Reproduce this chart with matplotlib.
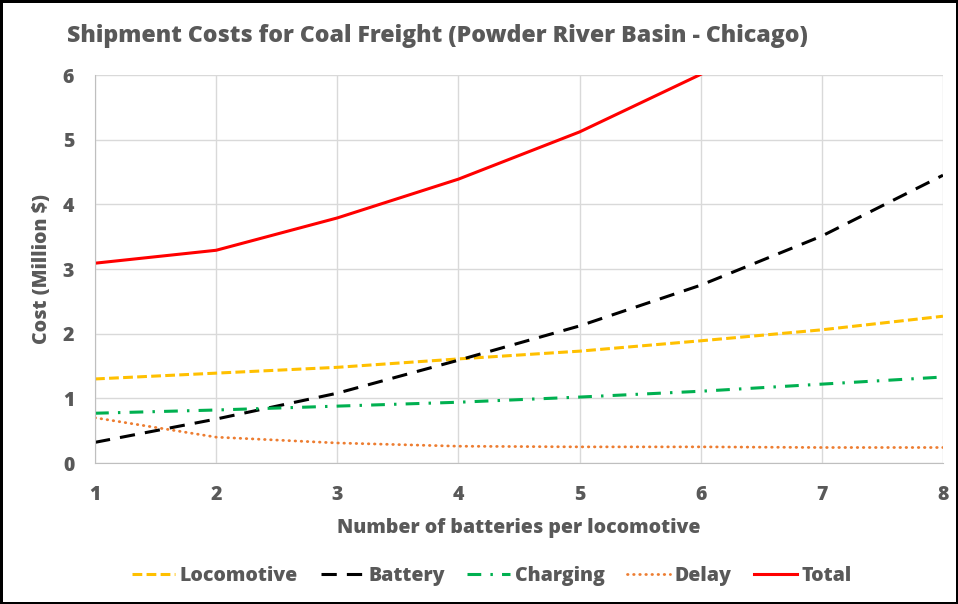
import matplotlib.pyplot as plt
import numpy as np

plt.rcParams['font.family'] = ['Open Sans', 'DejaVu Sans']
W = 'heavy'

# data
batteries = [1, 2, 3, 4, 5, 6, 7, 8]
locomotive = [1.30, 1.39, 1.48, 1.61, 1.73, 1.89, 2.06, 2.27]
battery = [0.32, 0.68, 1.08, 1.59, 2.12, 2.75, 3.51, 4.45]
charging = [0.77, 0.82, 0.88, 0.94, 1.02, 1.11, 1.22, 1.33]
delay = [0.70, 0.40, 0.31, 0.26, 0.25, 0.25, 0.24, 0.24]
total = [3.09, 3.29, 3.79, 4.39, 5.12, 6.01, 7.03, 8.29]

grey = '#595959'

fig = plt.figure(figsize=(9.58, 6.04), dpi=100, edgecolor='black', linewidth=2.5)
ax = fig.add_axes([0.0992, 0.2334, 0.8851, 0.6424])

ax.plot(batteries, locomotive, color='#FFC000', lw=2.2, dashes=(3.2, 1.4), label='Locomotive')
ax.plot(batteries, battery, color='black', lw=2.2, dashes=(5, 3.3), label='Battery')
ax.plot(batteries, charging, color='#00B050', lw=2.2, dashes=(4.5, 3, 0.8, 3), label='Charging')
ax.plot(batteries, delay, color='#ED7D31', lw=2.0, dashes=(0.2, 2.0), dash_capstyle='round',
        label='Delay')
ax.plot(batteries, total, color='#FF0000', lw=2.2, label='Total')

ax.set_xlim(1, 8)
ax.set_ylim(0, 6)
ax.set_xticks(batteries)
ax.set_yticks(range(0, 7))
ax.grid(True, color='#D9D9D9', lw=1)
ax.set_axisbelow(True)
for s in ['top', 'right']:
    ax.spines[s].set_visible(False)
for s in ['left', 'bottom']:
    ax.spines[s].set_color('#BFBFBF')
ax.tick_params(length=0, labelsize=14, labelcolor=grey)
ax.tick_params(axis='x', pad=16)
ax.tick_params(axis='y', pad=15)
for lab in ax.get_xticklabels() + ax.get_yticklabels():
    lab.set_fontweight(W)

ax.set_xlabel('Number of batteries per locomotive', fontsize=14, color=grey,
              fontweight=W, labelpad=9)
ax.set_ylabel('Cost (Million $)', fontsize=14, color=grey, fontweight=W, labelpad=8)

fig.text(0.07, 0.94, 'Shipment Costs for Coal Freight (Powder River Basin - Chicago)',
         fontsize=16.7, color=grey, fontweight=W, va='center', ha='left')

handles, labels = ax.get_legend_handles_labels()
leg = fig.legend(handles, labels, loc='center', bbox_to_anchor=(0.5136, 0.046), ncol=5,
                 frameon=False, handlelength=2.2, handletextpad=0.25, columnspacing=1.15,
                 prop={'size': 14, 'weight': W})
for t in leg.get_texts():
    t.set_color(grey)

fig.savefig('out.png', dpi=100)
